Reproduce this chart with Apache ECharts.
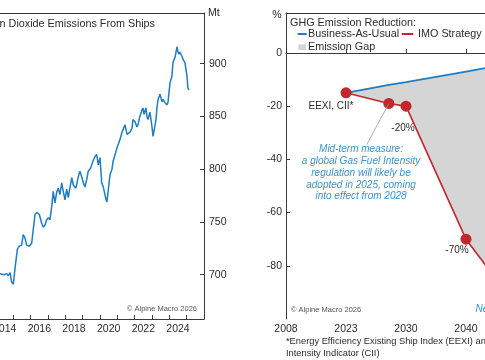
<!DOCTYPE html>
<html><head><meta charset="utf-8">
<script src="https://cdn.jsdelivr.net/npm/echarts@6/dist/echarts.min.js"></script>
<style>html,body{margin:0;padding:0;background:#fff}#c{width:485px;height:360px}</style>
</head><body><div id="c"></div>
<script>
// ---- Left panel: CO2 emissions from ships (Mt) ----
const co2Dates = [2014.23,2014.33,2014.46,2014.62,2014.71,2014.81,2014.90,2015.00,2015.09,2015.23,2015.34,2015.48,2015.57,2015.67,2015.77,2015.92,2016.06,2016.15,2016.25,2016.35,2016.50,2016.63,2016.73,2016.83,2016.92,2017.02,2017.11,2017.21,2017.30,2017.40,2017.50,2017.59,2017.69,2017.79,2017.88,2017.98,2018.08,2018.17,2018.27,2018.37,2018.46,2018.61,2018.75,2018.84,2018.94,2019.04,2019.13,2019.23,2019.32,2019.46,2019.58,2019.71,2019.81,2019.90,2020.00,2020.10,2020.19,2020.35,2020.40,2020.58,2020.69,2020.75,2020.87,2020.98,2021.15,2021.27,2021.33,2021.44,2021.56,2021.61,2021.73,2021.85,2021.90,2022.02,2022.13,2022.19,2022.30,2022.42,2022.48,2022.54,2022.65,2022.71,2022.77,2022.88,2023.00,2023.06,2023.11,2023.23,2023.29,2023.35,2023.46,2023.58,2023.63,2023.75,2023.86,2023.92,2024.04,2024.15,2024.21,2024.33,2024.44,2024.50,2024.56,2024.61,2024.73,2024.79,2024.90,2025.02,2025.07,2025.13];
const co2Values = [701,702,700,701,699,702,693,691,705,724,727,728,738,735,728,727,730,743,757,759,757,749,745,747,752,754,752,764,779,768,778,782,776,787,779,771,781,773,783,792,785,782,793,798,793,787,783,790,798,801,807,812,814,804,811,787,783,771,769,795,800,807,814,820,828,835,835,842,833,833,835,839,847,845,840,842,850,856,858,852,858,850,847,854,840,831,830,847,859,866,871,864,866,863,861,863,882,888,901,906,916,911,909,911,907,904,901,888,877,875];
const leftYTicks = [700, 750, 800, 850, 900];
const leftXTicks = [2015, 2016, 2017, 2018, 2019, 2020, 2021, 2022, 2023, 2024, 2025];
const leftXLabels = [2014, 2016, 2018, 2020, 2022, 2024];

// ---- Right panel: GHG emission reduction (%) ----
const axisYears = ['2008', '2023', '2030', '2040', '2050'];
const rightYTicks = [0, -20, -40, -60, -80];
const imoYears = [2023, 2028, 2030, 2040, 2050];
const imoValues = [-15, -19, -20, -70, -100];
const imoLabels = ['EEXI, CII*', '', '-20%', '-70%', 'Net Zero'];
const bauYears = [2023, 2028, 2030, 2040, 2050];
const bauValues = [-15, -12, -11, -7, -3];

const TXT = '#2b2b2b', AX = '#3a3a3a';
const BLUE = '#1f7dc3', RED = '#c1272d', GAP = '#d5d5d5', NOTE = '#3b92cc';
const FONT = 'Liberation Sans, Arial, sans-serif';

function yearPos(y) {
  const t = axisYears.map(Number);
  for (let i = 0; i < t.length - 1; i++) {
    if (y <= t[i + 1]) return i + (y - t[i]) / (t[i + 1] - t[i]);
  }
  return t.length - 1;
}

const labelCfg = [
  {offset: [-15, 13], color: TXT, fontStyle: 'normal'},
  null,
  {offset: [-3, 22], color: TXT, fontStyle: 'normal'},
  {offset: [-9, 11], color: TXT, fontStyle: 'normal'},
  {offset: [-31, -10], color: NOTE, fontStyle: 'italic'}
];

const imoData = imoYears.map((y, i) => {
  const item = {value: [yearPos(y), imoValues[i]]};
  const c = labelCfg[i];
  if (c && imoLabels[i]) {
    item.label = {show: true, formatter: imoLabels[i], position: 'inside', offset: c.offset,
      color: c.color, fontStyle: c.fontStyle, fontSize: 10, fontFamily: FONT};
  }
  return item;
});
const bauData = bauYears.map((y, i) => [yearPos(y), bauValues[i]]);
const imoLine = imoYears.map((y, i) => [yearPos(y), imoValues[i]]);

const chart = echarts.init(document.getElementById('c'), null, {renderer: 'canvas'});
const axLine = {show: true, lineStyle: {color: AX, width: 1}};
const noAx = {show: false};

chart.setOption({
  animation: false,
  textStyle: {fontFamily: FONT},
  grid: [
    {left: 0, top: 13, width: 204, height: 306, outerBoundsMode: 'none', containLabel: false},
    {left: 286, top: 13, width: 240, height: 306, outerBoundsMode: 'none', containLabel: false}
  ],
  xAxis: [
    {gridIndex: 0, type: 'value', min: 2014.23, max: 2026, position: 'bottom',
      axisLine: axLine,
      axisTick: {show: true, inside: true, length: 4, customValues: leftXTicks, lineStyle: {color: AX}},
      axisLabel: {customValues: leftXLabels.map(v => v + 0.5), formatter: v => String(Math.floor(v)),
        fontSize: 10.5, color: TXT, margin: 5, fontFamily: FONT},
      splitLine: noAx},
    {gridIndex: 0, type: 'value', min: 2014.23, max: 2026, position: 'top',
      axisLine: axLine, axisTick: noAx, axisLabel: noAx, splitLine: noAx},
    {gridIndex: 1, type: 'value', min: 0, max: 4, position: 'bottom',
      axisLine: axLine,
      axisTick: {show: true, inside: true, length: 4, customValues: [1, 2, 3], lineStyle: {color: AX}},
      axisLabel: {customValues: [0, 1, 2, 3, 4], formatter: v => axisYears[Math.round(v)],
        fontSize: 10.5, color: TXT, margin: 5, fontFamily: FONT},
      splitLine: noAx},
    {gridIndex: 1, type: 'value', min: 0, max: 4, position: 'top',
      axisLine: axLine, axisTick: noAx, axisLabel: noAx, splitLine: noAx}
  ],
  yAxis: [
    {gridIndex: 0, type: 'value', min: 658, max: 948, position: 'right',
      axisLine: axLine,
      axisTick: {show: true, inside: true, length: 4, customValues: leftYTicks, lineStyle: {color: AX}},
      axisLabel: {customValues: leftYTicks, fontSize: 10.5, color: TXT, margin: 5, fontFamily: FONT},
      splitLine: noAx},
    {gridIndex: 1, type: 'value', min: -100, max: 15, position: 'left',
      axisLine: axLine,
      axisTick: {show: true, inside: true, length: 4, customValues: rightYTicks, lineStyle: {color: AX}},
      axisLabel: {customValues: rightYTicks, fontSize: 10.5, color: TXT, margin: 4, fontFamily: FONT},
      splitLine: noAx}
  ],
  series: [
    {type: 'line', xAxisIndex: 0, yAxisIndex: 0, data: co2Dates.map((d, i) => [d, co2Values[i]]),
      showSymbol: false, symbol: 'none', lineStyle: {color: BLUE, width: 1.5}, clip: true, silent: true},
    {type: 'custom', xAxisIndex: 2, yAxisIndex: 1, data: [[bauData[0][0], bauData[0][1]]], silent: true, z: 1,
      renderItem: (params, api) => {
        const pts = bauData.map(p => api.coord(p)).concat(imoLine.slice().reverse().map(p => api.coord(p)));
        return {type: 'polygon', shape: {points: pts}, style: {fill: GAP}};
      }},
    {type: 'line', xAxisIndex: 2, yAxisIndex: 1, data: bauData, symbol: 'none',
      lineStyle: {color: BLUE, width: 1.8}, silent: true, z: 3,
      markLine: {silent: true, symbol: 'none', label: {show: false},
        lineStyle: {color: AX, width: 1, type: 'solid'}, data: [{yAxis: 0}]}},
    {type: 'line', xAxisIndex: 2, yAxisIndex: 1, data: imoData, symbol: 'circle', symbolSize: 11,
      lineStyle: {color: RED, width: 1.6}, itemStyle: {color: RED}, silent: true, z: 4,
      markLine: {silent: true, symbol: 'none', label: {show: false},
        lineStyle: {color: '#9a9a9a', width: 0.8, type: 'solid'},
        data: [[{coord: [yearPos(2028), imoValues[1]]}, {coord: [1.345, -34.5]}]]}}
  ],
  graphic: [
    {type: 'text', x: 155, y: 24, style: {text: 'Carbon Dioxide Emissions From Ships', align: 'right', verticalAlign: 'middle', fontSize: 10.8, fontFamily: FONT, fill: TXT}},
    {type: 'text', x: 208, y: 13, style: {text: 'Mt', align: 'left', verticalAlign: 'middle', fontSize: 10.5, fontFamily: FONT, fill: TXT}},
    {type: 'text', x: 197, y: 309, style: {text: '\u00a9 Alpine Macro 2026', align: 'right', verticalAlign: 'middle', fontSize: 7.5, fontFamily: FONT, fill: '#555'}},
    {type: 'text', x: 277, y: 15, style: {text: '%', align: 'center', verticalAlign: 'middle', fontSize: 10.5, fontFamily: FONT, fill: TXT}},
    {type: 'text', x: 291, y: 310, style: {text: '\u00a9 Alpine Macro 2026', align: 'left', verticalAlign: 'middle', fontSize: 7.5, fontFamily: FONT, fill: '#555'}},
    {type: 'text', x: 290, y: 23, style: {text: 'GHG Emission Reduction:', align: 'left', verticalAlign: 'middle', fontSize: 10.8, fontFamily: FONT, fill: TXT}},
    {type: 'rect', shape: {x: 297.7, y: 33, width: 9, height: 2}, style: {fill: BLUE}},
    {type: 'text', x: 308, y: 34, style: {text: 'Business-As-Usual', align: 'left', verticalAlign: 'middle', fontSize: 10.8, fontFamily: FONT, fill: TXT}},
    {type: 'rect', shape: {x: 401.7, y: 33, width: 11.6, height: 2}, style: {fill: RED}},
    {type: 'text', x: 418, y: 34, style: {text: 'IMO Strategy', align: 'left', verticalAlign: 'middle', fontSize: 10.8, fontFamily: FONT, fill: TXT}},
    {type: 'rect', shape: {x: 298.3, y: 44.3, width: 7.7, height: 5.7}, style: {fill: GAP}},
    {type: 'text', x: 308, y: 47, style: {text: 'Emission Gap', align: 'left', verticalAlign: 'middle', fontSize: 10.8, fontFamily: FONT, fill: TXT}},
    {type: 'text', x: 361, y: 143.5, style: {text: 'Mid-term measure:\na global Gas Fuel Intensity\nregulation will likely be\nadopted in 2025, coming\ninto effect from 2028', align: 'center', verticalAlign: 'top', lineHeight: 11.8, fontSize: 10, fontStyle: 'italic', fontFamily: FONT, fill: NOTE}},
    {type: 'text', x: 286, y: 335.5, style: {text: '*Energy Efficiency Existing Ship Index (EEXI) and Carbon\nIntensity Indicator (CII)', align: 'left', verticalAlign: 'top', lineHeight: 11.7, fontSize: 9.3, fontFamily: FONT, fill: TXT}}
  ]
});
</script>
</body></html>
